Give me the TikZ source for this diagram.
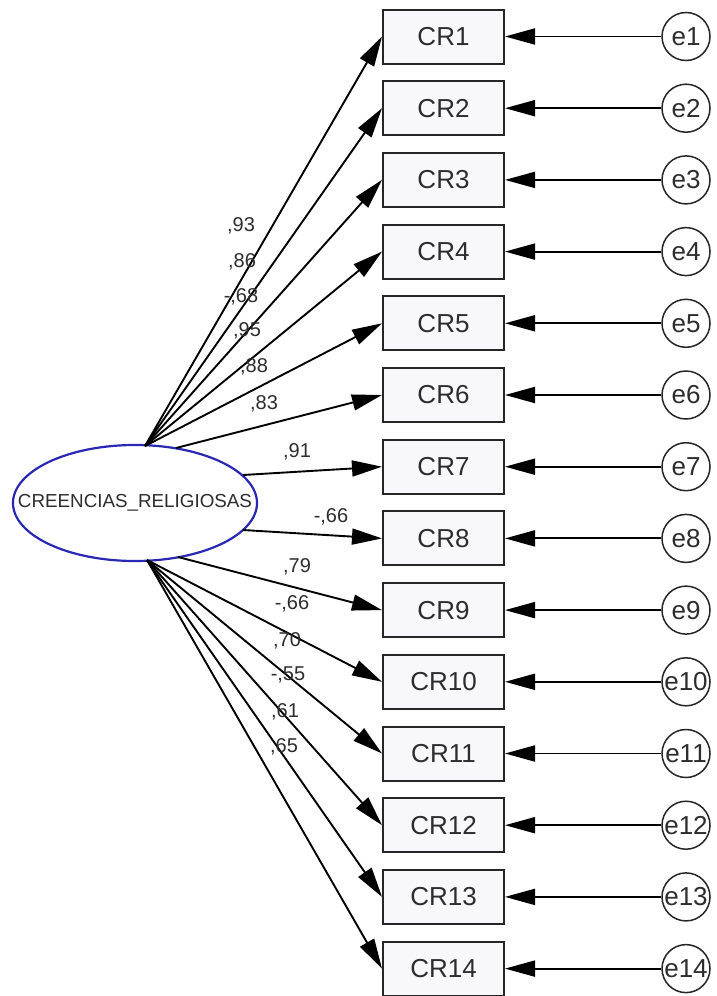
\documentclass[tikz,border=0pt]{standalone}
\usepackage{fontspec}
\setmainfont{Liberation Sans}
\usetikzlibrary{arrows.meta,shapes.geometric}
\definecolor{boxfill}{RGB}{248,248,251}
\definecolor{txt}{RGB}{45,45,45}
\definecolor{latent}{RGB}{40,40,180}
\begin{document}
\begin{tikzpicture}[x=1pt,y=-1pt,
  obs/.style={draw=black!85,line width=2pt,fill=boxfill,minimum width=121pt,minimum height=54pt,inner sep=0pt,font=\fontsize{26}{26}\selectfont,text=txt},
  err/.style={draw=black!85,circle,line width=1.5pt,fill=white,minimum size=48pt,inner sep=0pt,font=\fontsize{26}{26}\selectfont,text=txt},
  load/.style={line width=1.9pt,-{Triangle[length=30pt,width=16pt]}},
  lab/.style={font=\fontsize{20}{20}\selectfont,text=txt,inner sep=0pt}]
\useasboundingbox (0,0) rectangle (716,996);
\fill[white] (0,0) rectangle (716,996);
% latent
\node[draw=latent,line width=2.2pt,ellipse,fill=white,minimum width=244pt,minimum height=116pt,inner sep=0pt] (F) at (135,503) {};
\node[font=\fontsize{18.8}{18.8}\selectfont,text=txt,inner sep=0pt] (Ftext) at (F.center) {CREENCIAS\_RELIGIOSAS};
\coordinate (ft) at (145,446);
\coordinate (ft6) at (176,448);
\coordinate (f7) at (243,475);
\coordinate (f8) at (243,530);
\coordinate (fb9) at (178,557);
\coordinate (fb) at (147,560);
% observed and errors
\foreach \i in {1,...,14}{
  \node[obs] (cr\i) at (443.5,{36.5+(\i-1)*71.7}) {CR\i};
  \node[err] (e\i) at (686,{36.5+(\i-1)*71.7}) {e\i};
  \draw[load] (e\i) -- (cr\i.east);
}
\foreach \i in {1,...,5}{\draw[load] (ft) -- (cr\i.west);}
\draw[load] (ft6) -- (cr6.west);
\draw[load] (f7) -- (cr7.west);
\draw[load] (f8) -- (cr8.west);
\draw[load] (fb9) -- (cr9.west);
\foreach \i in {10,...,14}{\draw[load] (fb) -- (cr\i.west);}
% loadings
\node[lab] (l1) at (241,226) {,93};
\node[lab] (l2) at (242,262) {,86};
\node[lab] (l3) at (241,297) {-,68};
\node[lab] (l4) at (247,331) {,95};
\node[lab] (l5) at (254,367) {,88};
\node[lab] (l6) at (264,404) {,83};
\node[lab] (l7) at (297,452) {,91};
\node[lab] (l8) at (331,517) {-,66};
\node[lab] (l9) at (297,567) {,79};
\node[lab] (l10) at (292,604) {-,66};
\node[lab] (l11) at (287,641) {,70};
\node[lab] (l12) at (288,675) {-,55};
\node[lab] (l13) at (285,712) {,61};
\node[lab] (l14) at (284,747) {,65};
\end{tikzpicture}
\end{document}
